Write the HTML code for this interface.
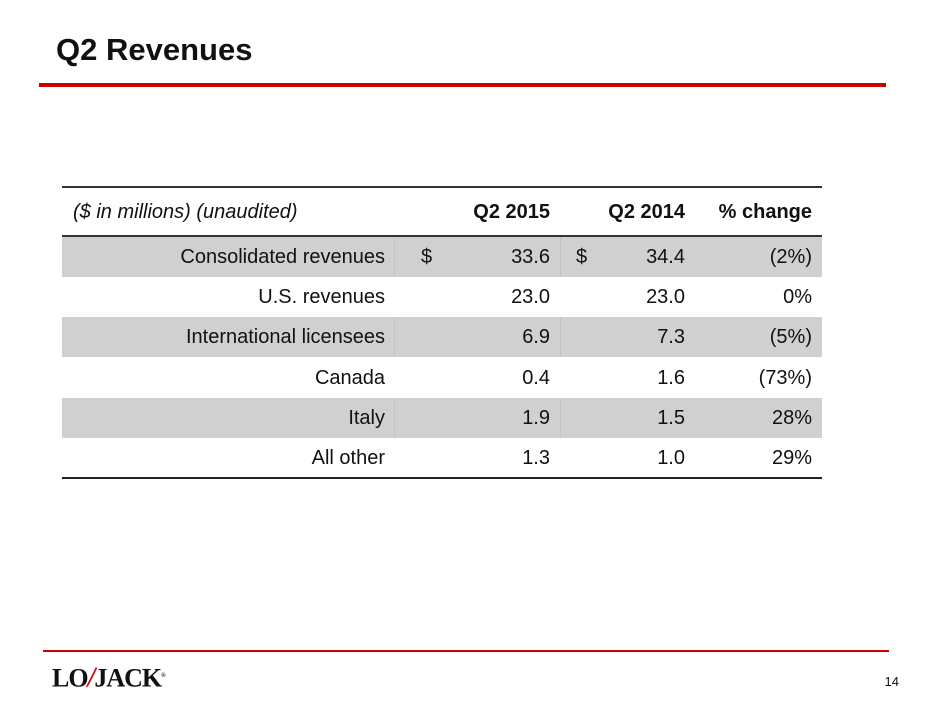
<!DOCTYPE html>
<html><head><meta charset="utf-8"><style>
body{margin:0;width:940px;height:705px;background:#fff;position:relative;overflow:hidden;font-family:"Liberation Sans",sans-serif;color:#111}
.abs{position:absolute}
.row{position:absolute;left:62px;width:760px;height:40px}
.c{position:absolute;top:0;line-height:40px;font-size:20px;white-space:nowrap}
.gray{background:#d0d0d0}
.sep{position:absolute;top:0;width:1px;height:40px;background:#c4c4c4}
</style></head><body>
<div class="abs" style="left:56px;top:30px;font-size:31px;font-weight:bold;line-height:40px">Q2 Revenues</div>
<div class="abs" style="left:39px;top:83px;width:847px;height:4px;background:#cc0000"></div>

<div>
<div class="abs" style="left:62px;top:186px;width:760px;height:2px;background:#333"></div>
<div class="row" style="top:190px;height:46px">
 <div class="c" style="left:11px;line-height:44px;font-style:italic">($ in millions) (unaudited)</div>
 <div class="c" style="right:272px;line-height:44px;font-weight:bold">Q2 2015</div>
 <div class="c" style="right:137px;line-height:44px;font-weight:bold">Q2 2014</div>
 <div class="c" style="right:10px;line-height:44px;font-weight:bold">% change</div>
</div>
<div class="abs" style="left:62px;top:235px;width:760px;height:2px;background:#333"></div>
<div id="rows"></div>
<div class="abs" style="left:62px;top:477px;width:760px;height:2px;background:#222"></div>
</div>

<div class="abs" style="left:43px;top:650px;width:846px;height:2px;background:#cc0000"></div>
<div class="abs" style="left:52px;top:661px;font-family:'Liberation Serif',serif;font-weight:bold;font-size:26px;letter-spacing:-1px;line-height:30px">LO<span style="color:#d00;font-style:italic;font-size:28px">/</span>JACK<sup style="font-size:6px">®</sup></div>
<div class="abs" style="left:872px;top:674px;width:27px;text-align:right;font-size:13px">14</div>

<script>
const labels=["Consolidated revenues","U.S. revenues","International licensees","Canada","Italy","All other"];
const q2015=["33.6","23.0","6.9","0.4","1.9","1.3"];
const q2014=["34.4","23.0","7.3","1.6","1.5","1.0"];
const pct=["(2%)","0%","(5%)","(73%)","28%","29%"];
const host=document.getElementById('rows');
labels.forEach((l,i)=>{
 const r=document.createElement('div');
 
 
 r.className='row'+(i%2===0?' gray':'');
 r.style.top=(237+i*40.2)+'px';
 let h='<div class="c" style="right:437px">'+l+'</div>';
 if(i%2===0){h+='<div class="sep" style="left:332px"></div><div class="sep" style="left:498px"></div>';}
 if(i===0){h+='<div class="c" style="left:359px">$</div><div class="c" style="left:514px">$</div>';}
 h+='<div class="c" style="right:272px">'+q2015[i]+'</div>';
 h+='<div class="c" style="right:137px">'+q2014[i]+'</div>';
 h+='<div class="c" style="right:10px">'+pct[i]+'</div>';
 r.innerHTML=h;
 host.appendChild(r);
});
</script>
</body></html>
